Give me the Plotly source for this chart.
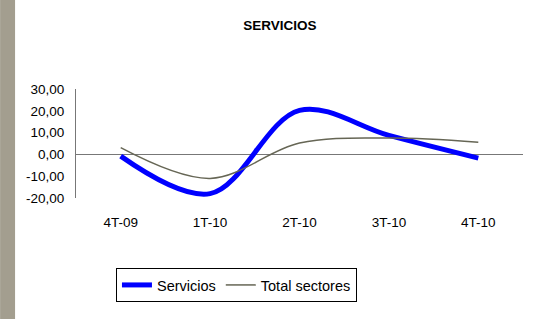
import plotly.graph_objects as go

categories = ["4T-09", "1T-10", "2T-10", "3T-10", "4T-10"]
servicios = [-0.8, -18.0, 20.2, 8.7, -1.7]
total_sectores = [3.1, -11.0, 5.2, 7.5, 5.6]
y_tick_vals = [-20, -10, 0, 10, 20, 30]
y_tick_text = ["-20,00", "-10,00", "0,00", "10,00", "20,00", "30,00"]

W, H = 536, 319
L, R, T, B = 76, 12.5, 89, 121
pw = W - L - R
ph = H - T - B

fig = go.Figure()
fig.add_trace(go.Scatter(
    x=categories, y=servicios, name="Servicios", mode="lines",
    line=dict(color="#0000FF", width=5, shape="spline", smoothing=1.0),
))
fig.add_trace(go.Scatter(
    x=categories, y=total_sectores, name="Total sectores", mode="lines",
    line=dict(color="#666655", width=1.5, shape="spline", smoothing=1.0),
))

fig.add_shape(type="rect", xref="paper", yref="paper",
              x0=(0 - L) / pw, x1=(15 - L) / pw, y0=-2, y1=2,
              fillcolor="#A39E8F", line=dict(width=0), layer="below")

fig.update_layout(
    width=W, height=H,
    margin=dict(l=L, r=R, t=T, b=B, autoexpand=False),
    paper_bgcolor="white", plot_bgcolor="white",
    font=dict(family="Liberation Sans, Arial, sans-serif", size=13, color="black"),
    title=dict(text="<b>SERVICIOS</b>", x=(280 - L) / pw, xref="paper", xanchor="center",
               y=1 - 25 / H, yanchor="middle", font=dict(size=13.5)),
    showlegend=True,
    legend=dict(orientation="h", x=(116 - L) / pw, y=(198 - 268) / ph,
                xanchor="left", yanchor="top",
                bordercolor="black", borderwidth=1, bgcolor="white",
                font=dict(size=14.5), itemwidth=30, tracegroupgap=0),
)
fig.update_xaxes(range=[-0.5, 4.5], showgrid=False, showline=False, ticks="",
                 ticklabelstandoff=14, zeroline=False, tickfont=dict(size=13.5))
fig.update_yaxes(range=[-20, 30], tickvals=y_tick_vals, ticktext=y_tick_text,
                 showgrid=False, showline=True, linecolor="#777777", linewidth=1,
                 zeroline=True, zerolinecolor="#777777", zerolinewidth=1,
                 ticks="", ticklabelstandoff=8, tickfont=dict(size=13.5))

fig.write_html("out.html", config={"displayModeBar": False},
               post_script="document.body.style.margin='0';")
